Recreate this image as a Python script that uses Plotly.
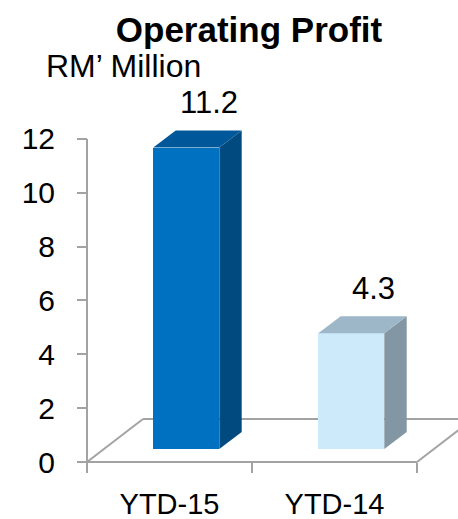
import plotly.graph_objects as go

# ---- data ----
categories = ["YTD-15", "YTD-14"]
values = [11.2, 4.3]
value_labels = ["11.2", "4.3"]
y_ticks = [0, 2, 4, 6, 8, 10, 12]

front_colors = ["#0070C0", "#CDEAFB"]
side_colors = ["#004A80", "#8396A4"]
top_colors = ["#00589B", "#9DB6C8"]

# ---- geometry of the pseudo-3D box ----
W, H = 458, 519
ML, MR, MT, MB = 80, 0, 118, 50
PX_X = 165.0          # pixels per category slot
PX_Y = 26.92          # pixels per value unit
ORIGIN_PX = (87, 462)  # where the front-left floor corner lands

x_lo = -0.5 - (ORIGIN_PX[0] - ML) / PX_X
x_hi = x_lo + (W - ML - MR) / PX_X
y_lo = -(H - MB - ORIGIN_PX[1]) / PX_Y
y_hi = y_lo + (H - MT - MB) / PX_Y

DX = 56 / PX_X        # floor depth, in x units
DY = 43 / PX_Y        # floor depth, in y units
BAR_FRONT, BAR_BACK = 0.3, 0.7   # bar position inside the depth
HALF_W = 0.2
GREY = "#A3A3A3"
FONT = "Liberation Sans, Arial, sans-serif"

fig = go.Figure()

# front faces of the bars
xs = [i + BAR_FRONT * DX for i in range(len(categories))]
fig.add_trace(go.Bar(
    x=xs, y=values, base=BAR_FRONT * DY, width=2 * HALF_W,
    marker=dict(color=front_colors, line=dict(width=0)),
    hoverinfo="skip", showlegend=False,
))

shapes = []
floor_left, floor_right = -0.5, len(categories) - 0.5


def seg(xa, ya, xb, yb, layer="below"):
    return dict(type="line", xref="x", yref="y", x0=xa, y0=ya, x1=xb, y1=yb,
                line=dict(color=GREY, width=2), layer=layer)


# floor outline and vertical axis line
shapes.append(seg(floor_left, 0, floor_right, 0))
shapes.append(seg(floor_left, 0, floor_left + DX, DY))
shapes.append(seg(floor_left + DX, DY, floor_right + DX, DY))
shapes.append(seg(floor_right, 0, floor_right + DX, DY))
shapes.append(seg(floor_left, 0, floor_left, y_ticks[-1]))

# side and top faces of each bar
ddx = (BAR_BACK - BAR_FRONT) * DX
ddy = (BAR_BACK - BAR_FRONT) * DY
base = BAR_FRONT * DY
annotations = []
for xc, v, lab, sc, tc in zip(xs, values, value_labels, side_colors, top_colors):
    xl, xr = xc - HALF_W, xc + HALF_W
    top = base + v
    side = (f"M {xr},{base} L {xr + ddx},{base + ddy} "
            f"L {xr + ddx},{top + ddy} L {xr},{top} Z")
    lid = (f"M {xl},{top} L {xl + ddx},{top + ddy} "
           f"L {xr + ddx},{top + ddy} L {xr},{top} Z")
    shapes.append(dict(type="path", path=side, xref="x", yref="y",
                       fillcolor=sc, line=dict(width=0), layer="above"))
    shapes.append(dict(type="path", path=lid, xref="x", yref="y",
                       fillcolor=tc, line=dict(width=0), layer="above"))
    annotations.append(dict(
        x=xc + ddx, y=top + ddy, xref="x", yref="y", text=lab,
        showarrow=False, xanchor="center", yanchor="middle", yshift=28,
        font=dict(family=FONT, size=31, color="#000000"),
    ))

# unit caption
annotations.append(dict(
    x=(44 - ML) / (W - ML - MR), y=1 + (MT - 66) / (H - MT - MB),
    xref="paper", yref="paper", text="RM\u2019 Million", showarrow=False,
    xanchor="left", yanchor="middle",
    font=dict(family=FONT, size=32, color="#000000"),
))

fig.update_layout(
    width=W, height=H,
    margin=dict(l=ML, r=MR, t=MT, b=MB, pad=0, autoexpand=False),
    paper_bgcolor="white", plot_bgcolor="white",
    title=dict(text="<b>Operating Profit</b>", x=249 / W, xanchor="center",
               xref="container", yref="container", y=1 - 30 / H,
               yanchor="middle", automargin=False,
               font=dict(family=FONT, size=35, color="#000000")),
    shapes=shapes, annotations=annotations,
    xaxis=dict(
        range=[x_lo, x_hi], anchor="free", automargin=False,
        position=(0 - y_lo) / (y_hi - y_lo),
        tickvals=list(range(len(categories))), ticktext=categories,
        ticks="", showline=False, showgrid=False, zeroline=False,
        tickfont=dict(family=FONT, size=29, color="#000000"),
        ticklabelstandoff=22,
        minor=dict(tickvals=[floor_left + i for i in range(len(categories) + 1)],
                   ticks="outside", ticklen=10, tickwidth=2,
                   tickcolor=GREY, showgrid=False),
    ),
    yaxis=dict(
        range=[y_lo, y_hi], anchor="free", automargin=False,
        position=(floor_left - x_lo) / (x_hi - x_lo),
        tickvals=y_ticks, ticks="outside", ticklen=10, tickwidth=2,
        tickcolor=GREY, showline=False, showgrid=False, zeroline=False,
        tickfont=dict(family=FONT, size=30, color="#000000"),
        ticklabelstandoff=16,
    ),
    bargap=0,
)

fig.write_html("out.html")
